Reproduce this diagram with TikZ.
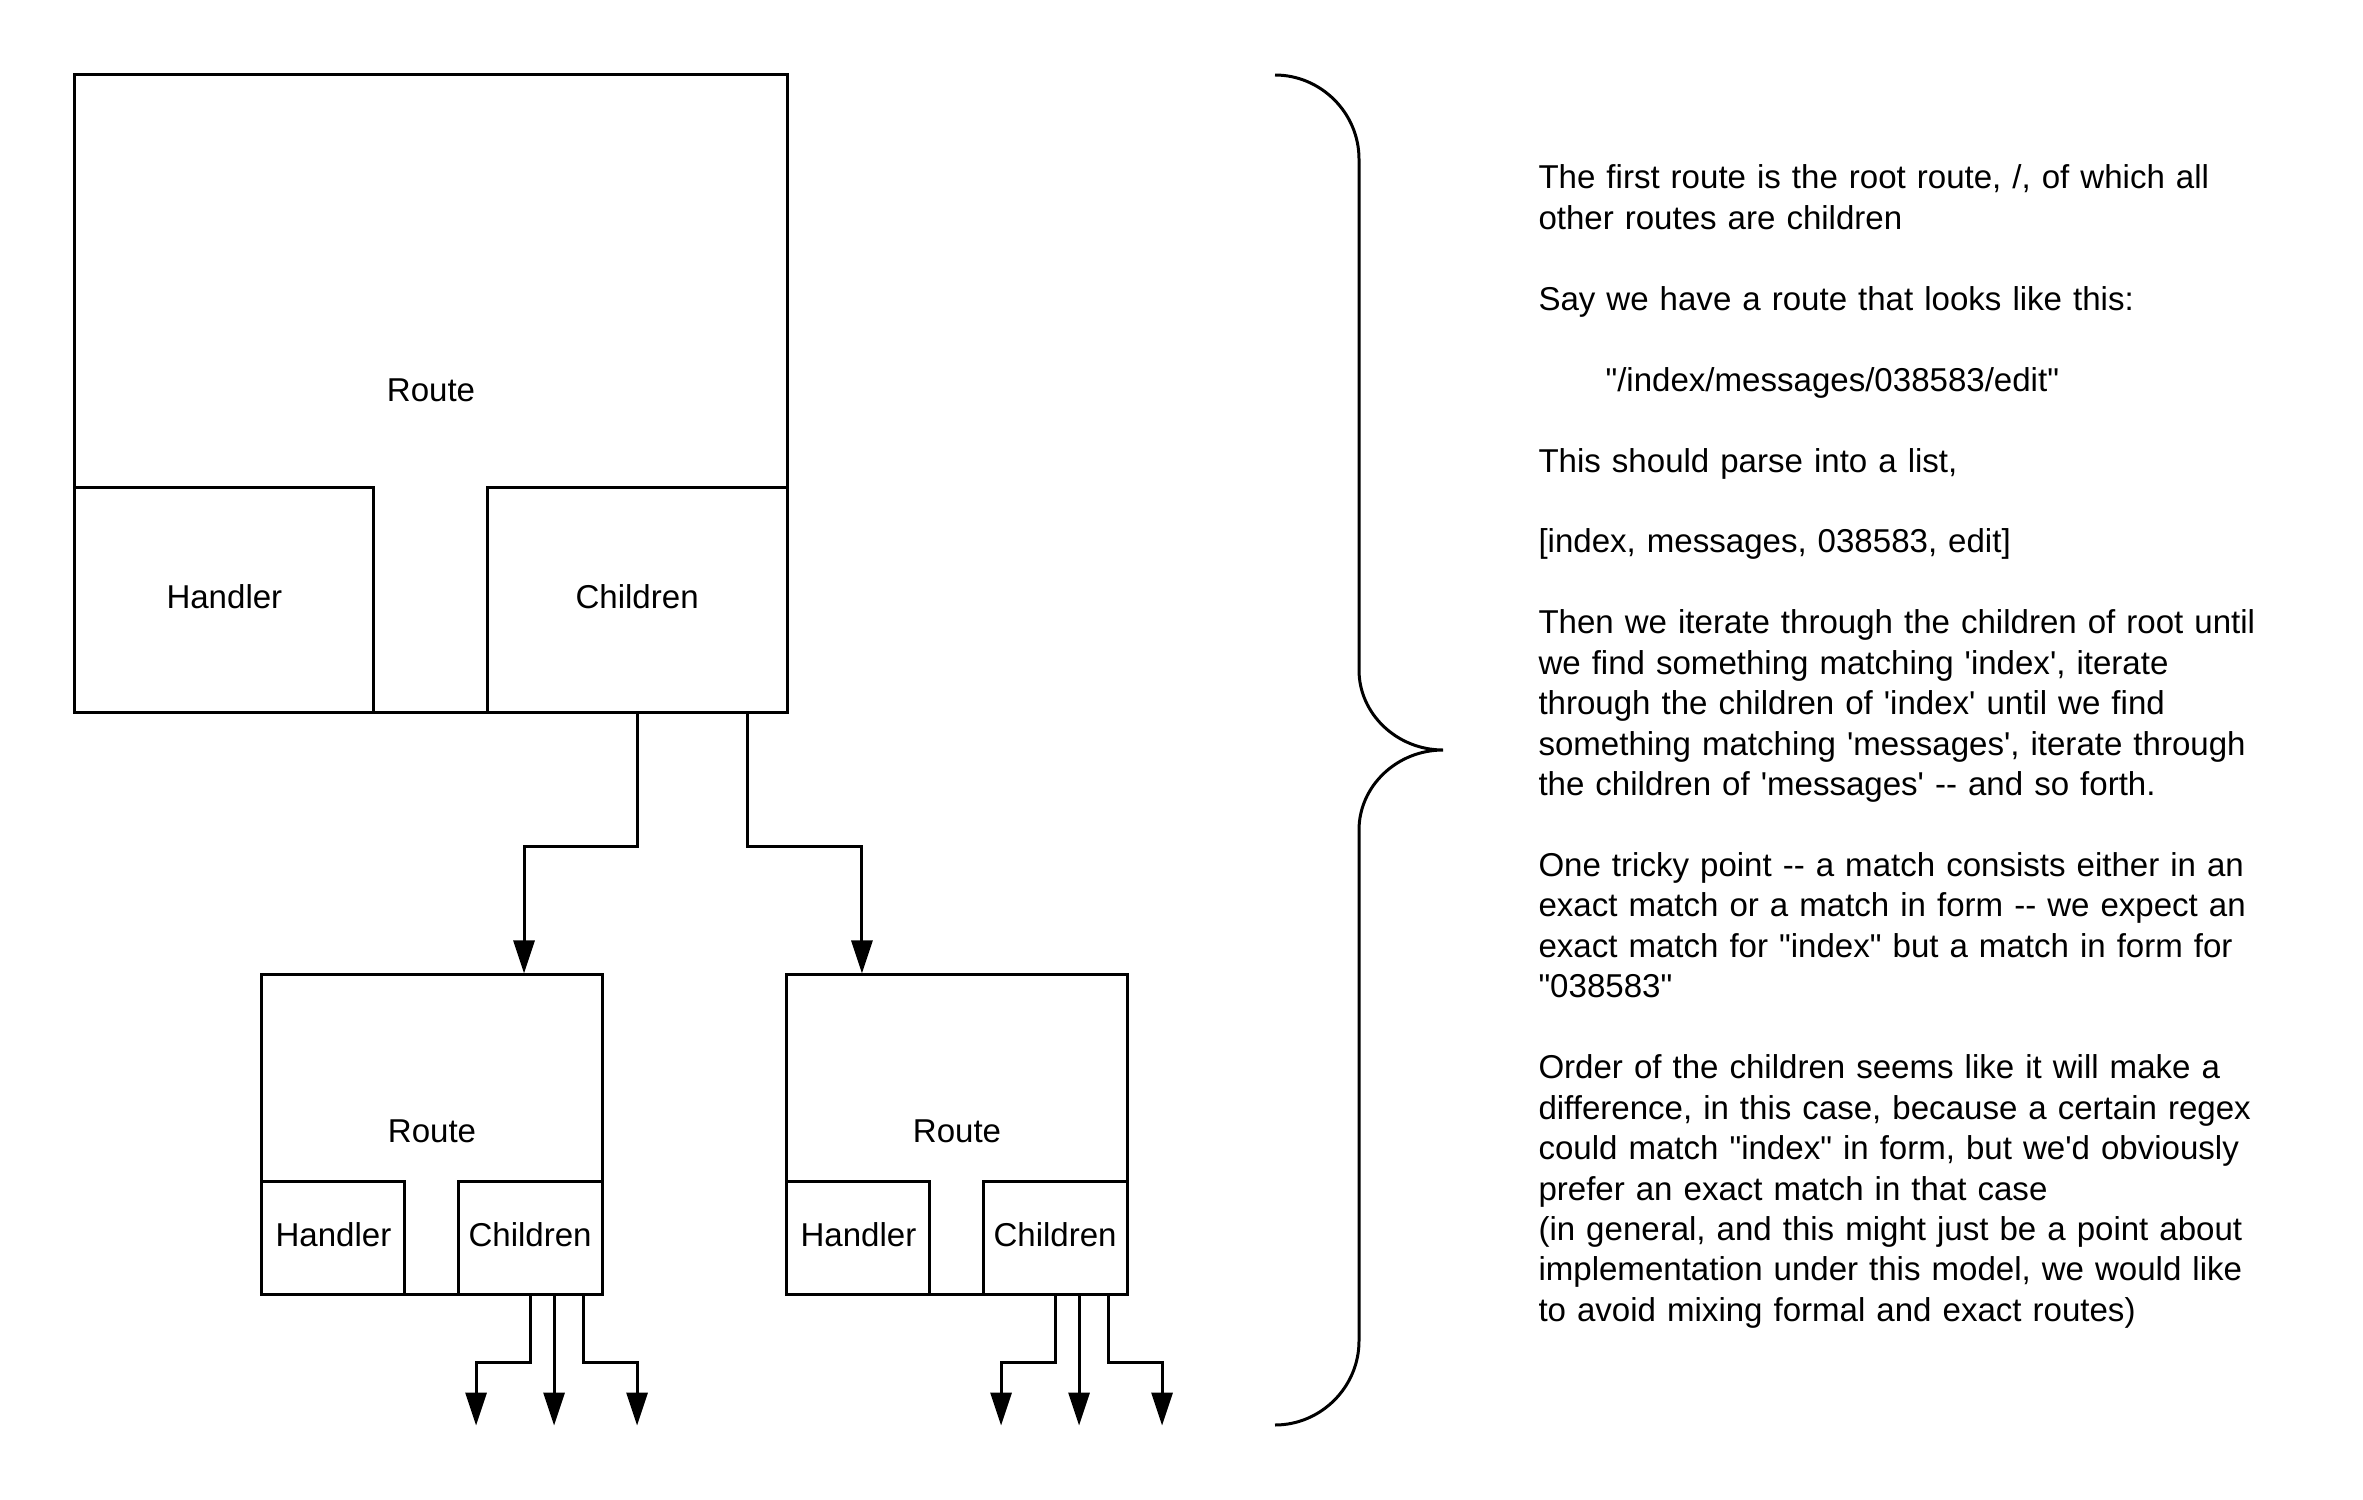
\documentclass[tikz,border=0pt]{standalone}
\usepackage{fontspec}
\setmainfont{Liberation Sans}[Ligatures=TeXOff]
\usetikzlibrary{arrows.meta,positioning}

\begin{document}
\begin{tikzpicture}
  [x=0.01cm,y=-0.01cm,line width=0.85pt,
   every node/.style={font=\fontsize{9.4}{11.5}\selectfont},
   cell/.style={draw,rectangle,inner sep=0pt,text depth=1.8pt},
   arr/.style={-{Triangle[length=0.33cm,width=0.21cm]}}]
  \useasboundingbox (0,0) rectangle (2363,1500);

  % root route
  \node[cell,minimum width=7.12cm,minimum height=6.37cm] (root) at (431,393.5) {Route};
  \node[cell,minimum width=2.99cm,minimum height=2.25cm,anchor=south west] (rh) at (root.south west) {Handler};
  \node[cell,minimum width=3cm,minimum height=2.25cm,anchor=south east] (rc) at (root.south east) {Children};

  % child routes
  \node[cell,minimum width=3.4cm,minimum height=3.19cm] (r1) at (432,1134.5) {Route};
  \node[cell,minimum width=1.43cm,minimum height=1.13cm,anchor=south west] (h1) at (r1.south west) {Handler};
  \node[cell,minimum width=1.44cm,minimum height=1.13cm,anchor=south east] (c1) at (r1.south east) {Children};

  \node[cell,minimum width=3.4cm,minimum height=3.19cm] (r2) at (957,1134.5) {Route};
  \node[cell,minimum width=1.43cm,minimum height=1.13cm,anchor=south west] (h2) at (r2.south west) {Handler};
  \node[cell,minimum width=1.44cm,minimum height=1.13cm,anchor=south east] (c2) at (r2.south east) {Children};

  \draw[arr] (rc.south) -- ++(0,133) -| ([xshift=0.92cm]r1.north);
  \draw[arr] ([xshift=1.1cm]rc.south) -- ++(0,133) -| ([xshift=-0.95cm]r2.north);

  \foreach \c in {c1,c2}
    \foreach \dx/\tx in {0/-54,24/0,53/54}
      \draw[arr] ([xshift=\dx*0.01cm]\c.south) -- ++(0,67) -| ++(\tx,63);

  % brace
  \draw (1275,75) .. controls (1321,75) and (1359,113) .. (1359,159)
    -- (1359,670) .. controls (1359,714) and (1397,750) .. (1443,750)
    .. controls (1397,750) and (1359,786) .. (1359,830)
    -- (1359,1341) .. controls (1359,1387) and (1321,1425) .. (1275,1425);

  \node[anchor=base west,inner sep=0pt,text width=8cm,align=left] (notes) at (1537,189) {%
The first route is the root route, /, of which all\\
other routes are children\\[11.5pt]
Say we have a route that looks like this:\\[11.5pt]
\hspace*{0.67cm}"/index/messages/038583/edit"\\[11.5pt]
This should parse into a list,\\[11.5pt]
[index, messages, 038583, edit]\\[11.5pt]
Then we iterate through the children of root until\\
we find something matching 'index', iterate\\
through the children of 'index' until we find\\
something matching 'messages', iterate through\\
the children of 'messages' -- and so forth.\\[11.5pt]
One tricky point -- a match consists either in an\\
exact match or a match in form -- we expect an\\
exact match for "index" but a match in form for\\
"038583"\\[11.5pt]
Order of the children seems like it will make a\\
difference, in this case, because a certain regex\\
could match "index" in form, but we'd obviously\\
prefer an exact match in that case\\
(in general, and this might just be a point about\\
implementation under this model, we would like\\
to avoid mixing formal and exact routes)};

\end{tikzpicture}
\end{document}
